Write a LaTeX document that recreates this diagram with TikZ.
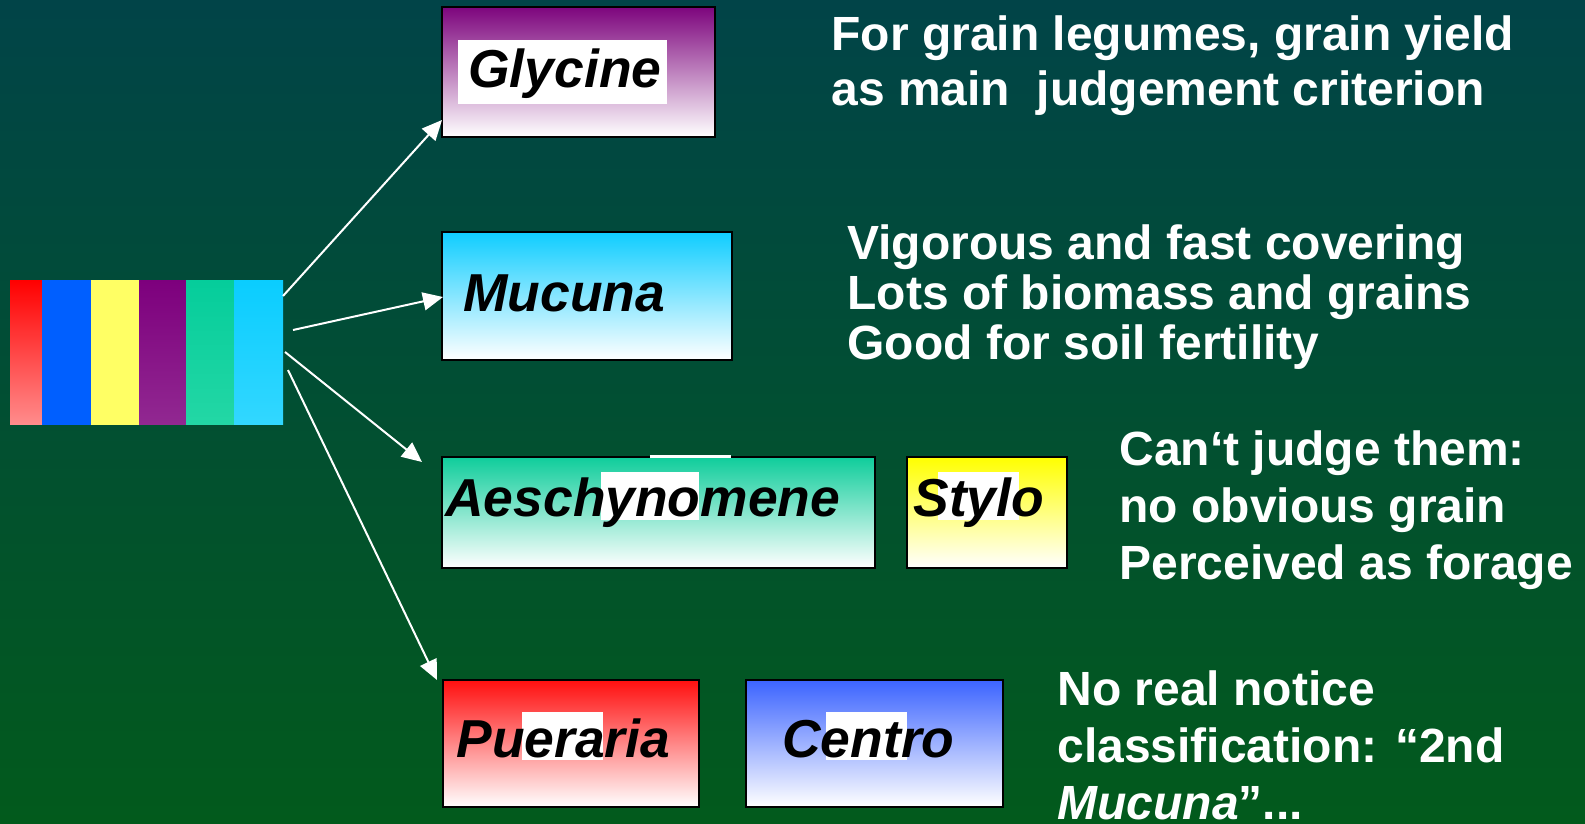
\documentclass[tikz,border=0pt]{standalone}
\usepackage{fontspec}
\setmainfont{Liberation Sans}
\usepackage{xcolor}
\usetikzlibrary{arrows.meta, fit}
\definecolor{bgtop}{RGB}{1,68,72}
\definecolor{bgbot}{RGB}{2,90,28}
\definecolor{redtop}{RGB}{255,0,0}
\definecolor{redbot}{RGB}{255,140,140}
\definecolor{stripeblue}{RGB}{0,95,255}
\definecolor{stripeyellow}{RGB}{255,255,100}
\definecolor{purpletop}{RGB}{125,0,125}
\definecolor{purplebot}{RGB}{145,40,145}
\definecolor{greentop}{RGB}{5,205,155}
\definecolor{greenbot}{RGB}{35,215,165}
\definecolor{cyantop}{RGB}{10,205,255}
\definecolor{cyanbot}{RGB}{50,215,255}
\definecolor{glycinecol}{RGB}{125,5,125}
\definecolor{mucunacol}{RGB}{15,205,255}
\definecolor{aeschcol}{RGB}{15,205,155}
\definecolor{stylocol}{RGB}{255,255,0}
\definecolor{puerariacol}{RGB}{255,15,15}
\definecolor{centrocol}{RGB}{60,100,255}

\begin{document}
\begin{tikzpicture}[x=0.5pt, y=-0.5pt,
    legbox/.style={draw=black, line width=1pt, inner sep=0pt, bottom color=white},
    patch/.style={fill=white},
    boxlabel/.style={anchor=base west, inner sep=0pt,
      font=\fontsize{26.7}{30}\selectfont\bfseries\itshape},
    remark/.style={anchor=base west, inner sep=0pt, align=left, text=white,
      font=\fontsize{24}{28.5}\selectfont\bfseries},
    link/.style={draw=white, line width=1pt, -{Triangle[length=10pt,width=9pt]}}]

  %Background
  \shade[top color=bgtop, bottom color=bgbot] (0,0) rectangle (1585,824);
  \useasboundingbox (0,0) rectangle (1585,824);

  %Colour bar
  \foreach \xa/\xb/\ct/\cb in {10/42/redtop/redbot, 42/91/stripeblue/stripeblue,
      91/139/stripeyellow/stripeyellow, 139/186/purpletop/purplebot,
      186/234/greentop/greenbot, 234/283/cyantop/cyanbot}
    \shade[top color=\ct, bottom color=\cb] (\xa,280) rectangle (\xb,424);
  \node[fit={(10,280) (283,424)}, inner sep=0pt] (bar) {};

  %Boxes
  \node[legbox, top color=glycinecol, fit={(442,7) (715,137)}] (glycine) {};
  \node[legbox, top color=mucunacol, fit={(442,232) (732,360)}] (mucuna) {};
  \node[legbox, top color=aeschcol, fit={(442,457) (875,568)}] (aeschynomene) {};
  \node[legbox, top color=stylocol, fit={(907,457) (1067,568)}] (stylo) {};
  \node[legbox, top color=puerariacol, fit={(443,680) (699,807)}] (pueraria) {};
  \node[legbox, top color=centrocol, fit={(746,680) (1003,807)}] (centro) {};

  %White patches behind the names
  \fill[patch] (458,40) rectangle (667,104);
  \fill[patch] (650,454.5) rectangle (731,457.5);
  \fill[patch] (601,472) rectangle (699,520);
  \fill[patch] (938,472) rectangle (1019,520);
  \fill[patch] (522,712) rectangle (603,760);
  \fill[patch] (826,712) rectangle (907,760);

  %Names
  \node[boxlabel] (glycine-txt) at (468,88) {Glycine};
  \node[boxlabel] (mucuna-txt) at (463,311) {Mucuna};
  \node[boxlabel] (aeschynomene-txt) at (445,516) {Aeschynomene};
  \node[boxlabel] (stylo-txt) at (913,516) {Stylo};
  \node[boxlabel] (pueraria-txt) at (456,757) {Pueraria};
  \node[boxlabel] (centro-txt) at (782,757) {Centro};

  %Remarks (anchored on their last line)
  \node[remark, font=\fontsize{24}{28}\selectfont\bfseries] (grain-note) at (831,106)
    {For grain legumes, grain yield\\as main\ \ judgement criterion};
  \node[remark, font=\fontsize{24}{25}\selectfont\bfseries] (cover-note) at (847,359)
    {Vigorous and fast covering\\Lots of biomass and grains\\Good for soil fertility};
  \node[remark] (forage-note) at (1119,579)
    {Can‘t judge them:\\no obvious grain\\Perceived as forage};
  \node[remark] (second-note) at (1057,819)
    {No real notice\\classification: “2nd\\\textit{Mucuna}”...};

  %Arrows
  \coordinate (s1) at (283,296);
  \coordinate (s2) at (293,330);
  \coordinate (s3) at (285,352);
  \coordinate (s4) at (288,370);
  \coordinate (t1) at (442,120);
  \coordinate (t2) at (443,297);
  \coordinate (t3) at (422,462);
  \coordinate (t4) at (437,680);
  \draw[link] (s1) -- (t1);
  \draw[link] (s2) -- (t2);
  \draw[link] (s3) -- (t3);
  \draw[link] (s4) -- (t4);

\end{tikzpicture}
\end{document}
